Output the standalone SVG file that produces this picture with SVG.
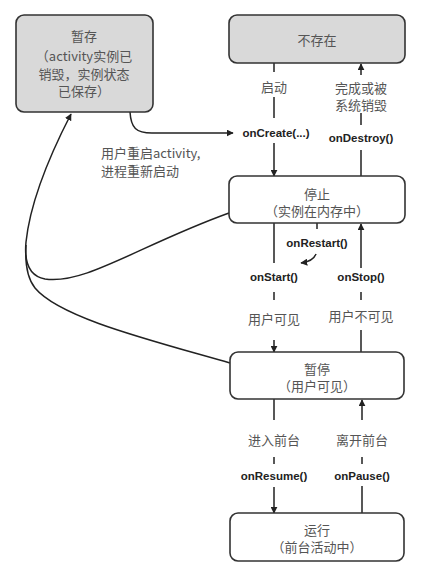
<svg xmlns="http://www.w3.org/2000/svg" width="432" height="570" viewBox="0 0 432 570">
<style>
.box{fill:#fff;stroke:#333;stroke-width:1.6}
.gray{fill:#d9d9d9}
.cn{font-family:"Noto Sans CJK SC","Liberation Serif",serif;font-size:13px;fill:#555;text-anchor:middle;dominant-baseline:central}
.lb{font-family:"Liberation Sans",Arial,sans-serif;font-size:11.5px;font-weight:bold;fill:#222;text-anchor:middle;dominant-baseline:central}
.ln{fill:none;stroke:#222;stroke-width:1.5}
</style>
<defs>
<marker id="ah" viewBox="0 0 10 10" refX="9" refY="5" markerWidth="7" markerHeight="7" markerUnits="userSpaceOnUse" orient="auto">
<path d="M0,0 L10,5 L0,10 z" fill="#222"/>
</marker>
</defs>
<g id="connectors">
<path class="ln" d="M274,63 V72 M274,97 V118 M274,143 V176" marker-end="url(#ah)"/>
<path class="ln" d="M361,176 V150 M361,125 V113 M361,75 V64" marker-end="url(#ah)"/>
<path class="ln" d="M130,112 C131,128 136,133 152,133 L233,133" marker-end="url(#ah)"/>
<path class="ln" d="M274,223 V263 M274,292 V300 M274,340 V352" marker-end="url(#ah)"/>
<path class="ln" d="M317,223 V229"/>
<path class="ln" d="M316,254 C314,259 309,262 301,263" marker-end="url(#ah)"/>
<path class="ln" d="M361,352 V330 M361,300 V292 M361,268 V224" marker-end="url(#ah)"/>
<path class="ln" d="M274,399 V420 M274,457 V464 M274,487 V513" marker-end="url(#ah)"/>
<path class="ln" d="M362,513 V486 M362,464 V457 M362,420 V400" marker-end="url(#ah)"/>
<path class="ln" d="M229,213 C140,245 85,285 45,279 C29,276 24,263 26,242 C31,195 55,145 71,114" marker-end="url(#ah)"/>
<path class="ln" d="M230,363 C150,340 60,318 35,288 C27,278 25,262 26,245"/>
</g>
<g id="n-saved">
<rect class="box gray" x="16" y="15" width="137" height="97" rx="8"/>
<text class="cn" x="84" y="35">暂存</text>
<text class="cn" x="84" y="55">（activity实例已</text>
<text class="cn" x="84" y="73">销毁，实例状态</text>
<text class="cn" x="84" y="90">已保存）</text>
</g>
<g id="n-none">
<rect class="box gray" x="229" y="15" width="176" height="48" rx="8"/>
<text class="cn" x="317" y="39">不存在</text>
</g>
<g id="n-stopped">
<rect class="box" x="229" y="176" width="176" height="47" rx="8"/>
<text class="cn" x="317" y="193">停止</text>
<text class="cn" x="317" y="210">（实例在内存中）</text>
</g>
<g id="n-paused">
<rect class="box" x="230" y="352" width="174" height="47" rx="8"/>
<text class="cn" x="317" y="368">暂停</text>
<text class="cn" x="317" y="385">（用户可见）</text>
</g>
<g id="n-running">
<rect class="box" x="230" y="513" width="174" height="48" rx="8"/>
<text class="cn" x="317" y="529">运行</text>
<text class="cn" x="317" y="546">（前台活动中）</text>
</g>
<g id="labels">
<text class="cn" x="274" y="86">启动</text>
<text class="cn" x="361" y="87">完成或被</text>
<text class="cn" x="361" y="104">系统销毁</text>
<text class="lb" x="276" y="133">onCreate(...)</text>
<text class="lb" x="361" y="138">onDestroy()</text>
<text class="cn" x="101" y="152" style="text-anchor:start">用户重启activity,</text>
<text class="cn" x="101" y="170" style="text-anchor:start">进程重新启动</text>
<text class="lb" x="317" y="243">onRestart()</text>
<text class="lb" x="274" y="277">onStart()</text>
<text class="lb" x="361" y="277">onStop()</text>
<text class="cn" x="274" y="318">用户可见</text>
<text class="cn" x="361" y="315">用户不可见</text>
<text class="cn" x="274" y="439">进入前台</text>
<text class="cn" x="362" y="439">离开前台</text>
<text class="lb" x="274" y="476">onResume()</text>
<text class="lb" x="362" y="476">onPause()</text>
</g>
</svg>
